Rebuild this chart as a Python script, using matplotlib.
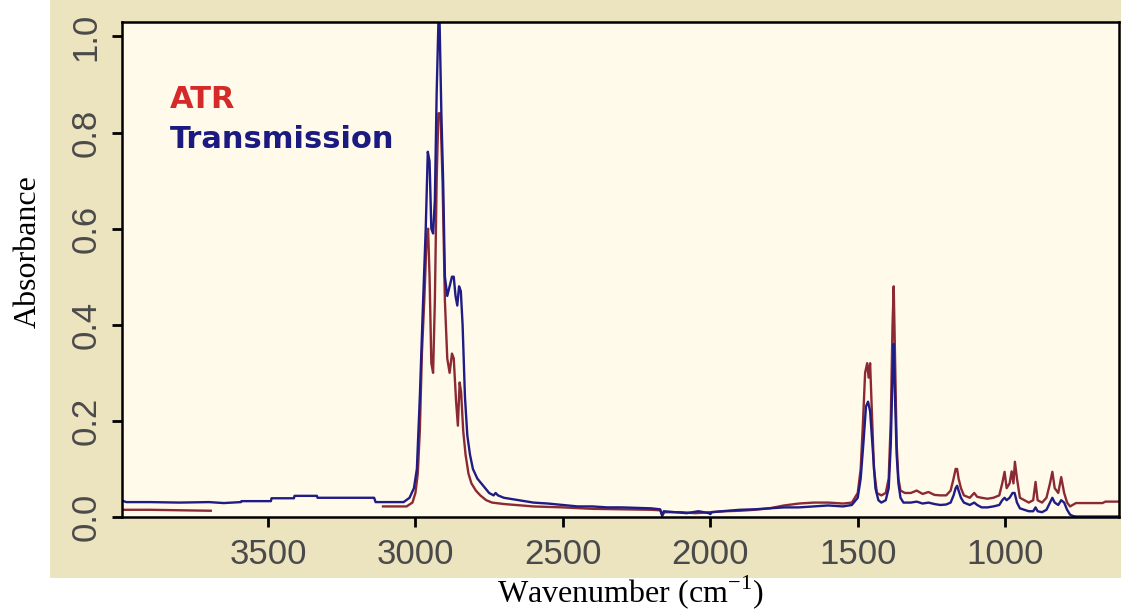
import numpy as np
import matplotlib
matplotlib.use('Agg')
from matplotlib import pyplot as plt
from matplotlib.patches import Rectangle

# transmission spectrum (wavenumber cm-1, absorbance)
trans_wn = [4000, 3980, 3900, 3800, 3700, 3650, 3592, 3590, 3490, 3488, 3412, 3410, 3334, 3332,
            3140, 3135, 3040, 3020, 3005, 2995, 2985, 2975, 2965, 2958, 2952, 2946, 2940, 2934,
            2928, 2922, 2918, 2912, 2906, 2900, 2892, 2884, 2876, 2870, 2864, 2858, 2852, 2846,
            2840, 2832, 2824, 2815, 2805, 2790, 2770, 2750, 2735, 2728, 2720, 2700, 2650, 2600,
            2550, 2500, 2450, 2400, 2350, 2300, 2250, 2200, 2170, 2163, 2158, 2120, 2080, 2040,
            2005, 2000, 1995, 1960, 1900, 1850, 1800, 1750, 1700, 1650, 1600, 1550, 1520, 1500,
            1490, 1480, 1472, 1465, 1458, 1450, 1440, 1430, 1420, 1405, 1395, 1388, 1382, 1378,
            1374, 1368, 1362, 1355, 1345, 1320, 1300, 1280, 1260, 1240, 1220, 1200, 1185, 1175,
            1168, 1163, 1158, 1150, 1140, 1120, 1105, 1095, 1080, 1060, 1040, 1020, 1010, 1002,
            995, 985, 975, 968, 960, 950, 935, 920, 905, 897, 890, 875, 860, 848, 840, 832, 820,
            810, 800, 790, 780, 770, 760, 700, 650, 614]
trans_abs = [0.035, 0.031, 0.031, 0.030, 0.031, 0.029, 0.031, 0.033, 0.033, 0.039, 0.039, 0.044, 0.044, 0.040,
             0.040, 0.031, 0.031, 0.040, 0.060, 0.10, 0.25, 0.43, 0.60, 0.76, 0.74, 0.60, 0.59, 0.66,
             0.88, 1.03, 1.03, 0.84, 0.70, 0.50, 0.46, 0.48, 0.50, 0.50, 0.46, 0.44, 0.48, 0.47,
             0.40, 0.25, 0.17, 0.13, 0.10, 0.08, 0.065, 0.05, 0.045, 0.05, 0.045, 0.04, 0.035, 0.03,
             0.028, 0.025, 0.022, 0.022, 0.02, 0.02, 0.019, 0.018, 0.016, 0.002, 0.012, 0.01, 0.008, 0.012,
             0.008, 0.006, 0.01, 0.012, 0.015, 0.016, 0.018, 0.02, 0.02, 0.022, 0.024, 0.022, 0.025, 0.04,
             0.08, 0.16, 0.23, 0.24, 0.22, 0.15, 0.06, 0.035, 0.03, 0.035, 0.06, 0.15, 0.30, 0.36,
             0.26, 0.13, 0.07, 0.04, 0.03, 0.03, 0.032, 0.028, 0.03, 0.027, 0.025, 0.026, 0.03, 0.045,
             0.06, 0.065, 0.055, 0.04, 0.03, 0.025, 0.03, 0.025, 0.02, 0.02, 0.022, 0.025, 0.035, 0.04,
             0.035, 0.04, 0.05, 0.05, 0.03, 0.018, 0.015, 0.012, 0.012, 0.02, 0.012, 0.01, 0.015, 0.03, 0.04, 0.03, 0.025,
             0.035, 0.03, 0.015, 0.005, 0.002, 0.001, 0.001, 0.001, 0.001]

# ATR spectrum, no data recorded between 3694 and 3110
atr_wn = [4000, 3900, 3800, 3700, 3694, 3690, 3110, 3060, 3030, 3010, 3000, 2992, 2985, 2978,
          2970, 2962, 2957, 2952, 2946, 2940, 2934, 2928, 2922, 2915, 2908, 2900, 2892, 2884,
          2876, 2870, 2862, 2856, 2850, 2845, 2838, 2830, 2820, 2810, 2795, 2780, 2760, 2740,
          2700, 2600, 2500, 2400, 2300, 2200, 2170, 2163, 2155, 2100, 2050, 2000, 1950, 1900,
          1850, 1800, 1750, 1700, 1650, 1600, 1550, 1520, 1500, 1490, 1482, 1475, 1468, 1463,
          1458, 1452, 1445, 1435, 1420, 1405, 1395, 1388, 1382, 1378, 1374, 1368, 1362, 1355,
          1340, 1320, 1300, 1280, 1260, 1240, 1220, 1200, 1185, 1175, 1168, 1163, 1158, 1150,
          1140, 1120, 1105, 1095, 1080, 1060, 1040, 1020, 1010, 1002, 995, 985, 978, 972, 967,
          960, 950, 935, 920, 905, 897, 890, 875, 860, 848, 840, 832, 820, 810, 800, 790, 780,
          760, 700, 670, 660, 640, 614]
atr_abs = [0.015, 0.015, 0.014, 0.013, 0.013, np.nan, 0.022, 0.022, 0.022, 0.03, 0.05, 0.09, 0.18, 0.34,
           0.45, 0.58, 0.60, 0.50, 0.32, 0.30, 0.45, 0.70, 0.84, 0.84, 0.70, 0.45, 0.33, 0.30,
           0.34, 0.33, 0.24, 0.19, 0.28, 0.26, 0.18, 0.13, 0.09, 0.07, 0.055, 0.045, 0.035, 0.03,
           0.027, 0.022, 0.02, 0.017, 0.016, 0.015, 0.014, 0.004, 0.01, 0.01, 0.008, 0.01, 0.012, 0.013,
           0.015, 0.018, 0.024, 0.028, 0.03, 0.03, 0.028, 0.03, 0.05, 0.10, 0.20, 0.30, 0.32, 0.29,
           0.32, 0.22, 0.10, 0.05, 0.045, 0.05, 0.08, 0.20, 0.40, 0.48, 0.35, 0.15, 0.08, 0.055,
           0.05, 0.05, 0.055, 0.048, 0.052, 0.046, 0.045, 0.045, 0.055, 0.08, 0.10, 0.10, 0.08, 0.06,
           0.045, 0.04, 0.05, 0.042, 0.04, 0.038, 0.04, 0.045, 0.07, 0.094, 0.06, 0.07, 0.095, 0.07, 0.115,
           0.08, 0.04, 0.035, 0.03, 0.035, 0.073, 0.035, 0.03, 0.04, 0.07, 0.094, 0.06, 0.05, 0.083, 0.05, 0.03, 0.022,
           0.029, 0.029, 0.029, 0.032, 0.032, 0.032]

x_ticks = [3500, 3000, 2500, 2000, 1500, 1000]
y_ticks = [0.0, 0.2, 0.4, 0.6, 0.8, 1.0]

plt.rcParams['mathtext.fontset'] = 'custom'
plt.rcParams['mathtext.rm'] = 'Liberation Serif'

fig = plt.figure(figsize=(11.21, 6.10), dpi=100)
fig.patch.set_facecolor('white')
# khaki panel behind the plot
fig.patches.append(Rectangle((50 / 1121, 32 / 610), 1 - 50 / 1121, 1 - 32 / 610,
                             transform=fig.transFigure, facecolor='#ece3bf', edgecolor='none', zorder=-10))

ax = fig.add_axes([122 / 1121, 93 / 610, 997 / 1121, 495 / 610])
ax.set_zorder(1)
ax.set_facecolor('#fffaea')

ax.plot(atr_wn, atr_abs, color='#8c2a33', lw=1.7)
ax.plot(trans_wn, trans_abs, color='#1f1c86', lw=1.7)

ax.set_xlim(3995, 614)
ax.set_ylim(0, 1.03)
ax.set_xticks(x_ticks)
ax.set_yticks(y_ticks)
ax.set_yticklabels(['%.1f' % v for v in y_ticks])

tick_font = dict(family=['Liberation Sans Narrow', 'Liberation Sans'], size=25)
for lbl in ax.get_xticklabels():
    lbl.set_fontproperties(tick_font)
for lbl in ax.get_yticklabels():
    lbl.set_fontproperties(tick_font)
    lbl.set_rotation(90)
    lbl.set_va('center')

ax.tick_params(direction='out', length=7, width=2, color='black', labelcolor='#4a4a4a')
ax.tick_params(axis='x', pad=8)
ax.tick_params(axis='y', pad=7)
for s in ax.spines.values():
    s.set_linewidth(1.8)

ax.text(0.048, 0.826, 'ATR', transform=ax.transAxes, color='#d42a2a',
        fontsize=22, fontweight='bold', family='DejaVu Sans')
ax.text(0.048, 0.745, 'Transmission', transform=ax.transAxes, color='#1a1a80',
        fontsize=22, fontweight='bold', family='DejaVu Sans')

fig.text(0.025, 0.587, 'Absorbance', rotation=90, ha='center', va='center',
         fontsize=23, family='Liberation Serif')
fig.text(0.562, 0.03, 'Wavenumber (cm$^{-1}$)', ha='center', va='center',
         fontsize=23, family='Liberation Serif')

fig.savefig('out.png', dpi=100)
